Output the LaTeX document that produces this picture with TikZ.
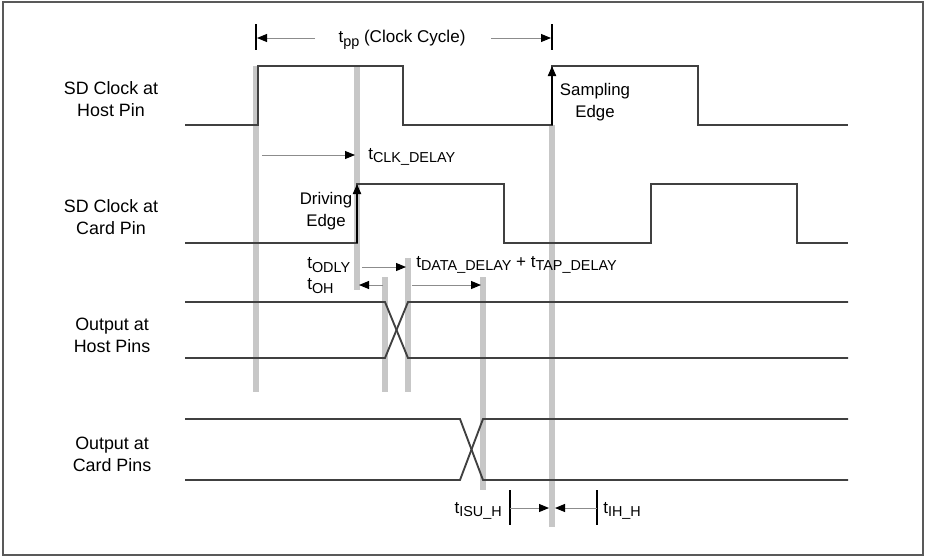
\documentclass[tikz,border=0pt]{standalone}
\usepackage{fontspec}
\setmainfont{Liberation Sans}
\usetikzlibrary{arrows.meta}
\newcommand\tsb[1]{t\raisebox{-2.6pt}{\fontsize{10.8}{10.8}\selectfont #1}}
\begin{document}
\begin{tikzpicture}[x=0.75pt,y=-0.75pt,
  sig/.style={draw=black!75, line width=1.4pt, line join=miter},
  greybar/.style={draw=black!22, line width=4.5pt},
  dimarr/.style={draw=black!45, line width=0.75pt, -{Triangle[length=7.5pt,width=6pt,color=black]}},
  edgearr/.style={draw=black, line width=1.5pt, -{Triangle[length=7.5pt,width=6pt]}},
  rowlbl/.style={font=\fontsize{13.4}{16.5}\selectfont, align=center, inner sep=0pt},
  lbl/.style={font=\fontsize{12.6}{16.5}\selectfont, align=center, inner sep=0pt},
  txt/.style={font=\fontsize{12.8}{16.5}\selectfont, inner sep=0pt},
  tickline/.style={draw=black, line width=1pt}]
\useasboundingbox (0,0) rectangle (925,557);
\draw[black!65, line width=1.5pt] (3,1.5) rectangle (922.5,555);

% grey timing bars
\draw[greybar] (256,66) -- (256,392);
\draw[greybar] (357,66) -- (357,290);
\draw[greybar] (385,277) -- (385,392);
\draw[greybar] (408,258) -- (408,392);
\draw[greybar] (483,277) -- (483,490);
\draw[greybar] (552,125) -- (552,527);

% signals
\draw[sig] (185,125) -- (258,125) -- (258,66) -- (403,66) -- (403,125) -- (552,125) -- (552,66) -- (698,66) -- (698,125) -- (848,125);
\draw[sig] (185,243) -- (357,243) -- (357,184) -- (504,184) -- (504,243) -- (651,243) -- (651,184) -- (797,184) -- (797,243) -- (848,243);
\draw[sig] (185,302) -- (385,302) -- (408,358) -- (848,358);
\draw[sig] (185,358) -- (385,358) -- (408,302) -- (848,302);
\draw[sig] (185,419) -- (460,419) -- (483,480) -- (848,480);
\draw[sig] (185,480) -- (460,480) -- (483,419) -- (848,419);

% edge arrows
\coordinate (de0) at (357,243); \coordinate (de1) at (357,184);
\coordinate (se0) at (552,125); \coordinate (se1) at (552,66);
\draw[edgearr] (de0) -- (de1);
\draw[edgearr] (se0) -- (se1);

% row labels
\node[rowlbl] (l1) at (111,99) {SD Clock at\\Host Pin};
\node[rowlbl] (l2) at (111,217) {SD Clock at\\Card Pin};
\node[rowlbl] (l3) at (112,335) {Output at\\Host Pins};
\node[rowlbl] (l4) at (112,454) {Output at\\Card Pins};

\node[lbl] (drv) at (326,211) {Driving\\Edge};
\node[lbl] (smp) at (595,102) {Sampling\\Edge};

% clock cycle dimension
\coordinate (tk1a) at (256,24); \coordinate (tk1b) at (256,50);
\coordinate (tk2a) at (552,24); \coordinate (tk2b) at (552,50);
\draw[tickline] (tk1a) -- (tk1b);
\draw[tickline] (tk2a) -- (tk2b);
\node[txt] (tpp) at (402,40) {\tsb{pp} (Clock Cycle)};
\coordinate (pa) at (315,38); \coordinate (pb) at (257,38);
\coordinate (pc) at (491,38); \coordinate (pd) at (551,38);
\draw[dimarr] (pa) -- (pb);
\draw[dimarr] (pc) -- (pd);

% clk delay
\coordinate (ca) at (262,155); \coordinate (cb) at (355,155);
\draw[dimarr] (ca) -- (cb);
\node[txt, anchor=west] (tclk) at (368,157) {\tsb{CLK\_DELAY}};

% odly / oh / data delay
\node[txt, anchor=west] (todly) at (307,265) {\tsb{ODLY}};
\node[txt, anchor=west] (toh) at (307,286) {\tsb{OH}};
\node[txt, anchor=west] (tdata) at (416,265) {\tsb{DATA\_DELAY} + \tsb{TAP\_DELAY}};
\coordinate (oa) at (362,267); \coordinate (ob) at (406,267);
\draw[dimarr] (oa) -- (ob);
\coordinate (ha) at (383,285); \coordinate (hb) at (359,285);
\draw[dimarr] (ha) -- (hb);
\coordinate (da) at (412,285); \coordinate (db) at (481,285);
\draw[dimarr] (da) -- (db);

% setup / hold
\coordinate (s1a) at (510,490); \coordinate (s1b) at (510,525);
\coordinate (s2a) at (597,490); \coordinate (s2b) at (597,525);
\draw[tickline] (s1a) -- (s1b);
\draw[tickline] (s2a) -- (s2b);
\coordinate (ia) at (510,508); \coordinate (ib) at (549,508);
\coordinate (ja) at (597,508); \coordinate (jb) at (555,508);
\draw[dimarr] (ia) -- (ib);
\draw[dimarr] (ja) -- (jb);
\node[txt, anchor=east] (tisu) at (502,511) {\tsb{ISU\_H}};
\node[txt, anchor=west] (tih) at (603,511) {\tsb{IH\_H}};
\end{tikzpicture}
\end{document}
